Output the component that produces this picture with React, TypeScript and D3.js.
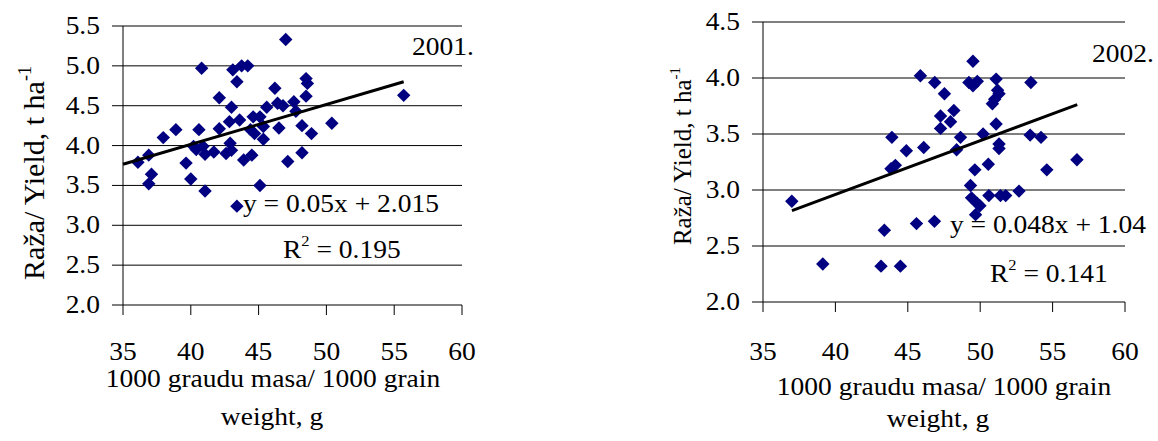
import * as d3 from "d3";

// 2001 season: 1000 grain weight (g) vs yield (t/ha)
const weight2001 = [
  47.0, 40.8, 43.1, 43.75, 44.2, 43.4, 48.5, 48.6, 46.2, 42.1, 48.5, 43.0, 45.6, 46.4,
  46.8, 47.6, 47.75, 42.85, 43.6, 44.6, 45.1, 45.35, 37.97, 38.9, 40.6, 42.1, 44.4, 44.7,
  46.5, 48.2, 50.4, 48.9, 45.35, 40.2, 40.9, 40.4, 42.9, 36.1, 36.9, 41.05, 41.7, 42.6,
  43.0, 43.9, 44.5, 48.2, 39.65, 47.15, 37.1, 36.9, 40.0, 45.1, 41.05, 43.4, 55.7,
];
const yield2001 = [
  5.33, 4.97, 4.95, 5.0, 5.0, 4.8, 4.84, 4.78, 4.72, 4.6, 4.62, 4.48, 4.48, 4.53,
  4.5, 4.55, 4.43, 4.3, 4.32, 4.36, 4.36, 4.24, 4.1, 4.2, 4.2, 4.21, 4.2, 4.15,
  4.22, 4.25, 4.28, 4.15, 4.08, 3.99, 3.99, 3.95, 4.03, 3.79, 3.88, 3.89, 3.92, 3.9,
  3.94, 3.82, 3.88, 3.91, 3.78, 3.8, 3.64, 3.52, 3.58, 3.5, 3.43, 3.24, 4.63,
];

// 2002 season
const weight2002 = [
  49.5, 45.87, 46.86, 47.53, 49.22, 49.5, 49.8, 51.1, 51.2, 51.3, 51.0, 50.84, 53.5,
  48.18, 47.26, 47.95, 47.26, 51.1, 43.9, 48.64, 50.2, 53.45, 54.2, 44.9, 46.1, 48.37,
  51.3, 51.3, 43.84, 44.14, 50.56, 49.63, 54.6, 56.68, 49.33, 36.99, 49.4, 49.8, 49.98,
  49.68, 50.6, 51.4, 51.76, 52.68, 45.6, 46.84, 43.38, 39.13, 43.15, 44.49,
];
const yield2002 = [
  4.15, 4.02, 3.96, 3.86, 3.96, 3.93, 3.97, 3.99, 3.89, 3.86, 3.81, 3.77, 3.96,
  3.71, 3.66, 3.61, 3.55, 3.59, 3.47, 3.47, 3.5, 3.49, 3.47, 3.35, 3.38, 3.36,
  3.41, 3.37, 3.19, 3.22, 3.23, 3.18, 3.18, 3.27, 3.04, 2.9, 2.93, 2.88, 2.86,
  2.78, 2.95, 2.95, 2.95, 2.99, 2.7, 2.72, 2.64, 2.34, 2.32, 2.32,
];

const xTicks = [35, 40, 45, 50, 55, 60];
const yTicks2001 = [2.0, 2.5, 3.0, 3.5, 4.0, 4.5, 5.0, 5.5];
const yTicks2002 = [2.0, 2.5, 3.0, 3.5, 4.0, 4.5];

const FONT = "Liberation Serif, Times New Roman, serif";
const FS = 25;
const SX = 1.1; // text in the source is a bit wide

function Label({ x, y, size = FS, anchor = "start", children }: any) {
  return (
    <g transform={`translate(${x},${y}) scale(${SX},1)`}>
      <text fontSize={size} textAnchor={anchor}>
        {children}
      </text>
    </g>
  );
}

function Panel(props: any) {
  const {
    weights, yields, yTicks, yMax, left, right, top, bottom,
    slope, intercept, fitFrom, fitTo, year, yearPos, eq, eqPos, r2, r2Pos,
    yTitle, tickBase, xTitle1, xTitle2, xTitleX,
  } = props;

  const x = d3.scaleLinear().domain([35, 60]).range([left, right]);
  const y = d3.scaleLinear().domain([2, yMax]).range([bottom, top]);
  const diamond = d3.symbol(d3.symbolSquare, 90)() as string;
  const fit = d3
    .line<number>()
    .x((d) => x(d))
    .y((d) => y(slope * d + intercept))([fitFrom, fitTo]) as string;
  const fmt = d3.format(".1f");

  return (
    <g>
      {/* gridlines */}
      {yTicks.map((t: number) => (
        <line key={t} x1={left - 11} x2={right} y1={y(t)} y2={y(t)} stroke="#000" strokeWidth={1} />
      ))}
      <line x1={left} x2={left} y1={y(yMax)} y2={bottom} stroke="#000" strokeWidth={1} />
      {xTicks.map((t) => (
        <line key={t} x1={x(t)} x2={x(t)} y1={bottom} y2={bottom + 10} stroke="#000" strokeWidth={1} />
      ))}

      {/* tick labels */}
      {yTicks.map((t: number) => (
        <Label key={t} x={left - 23} y={y(t) + 8} anchor="end">
          {fmt(t)}
        </Label>
      ))}
      {xTicks.map((t) => (
        <Label key={t} x={x(t)} y={tickBase} anchor="middle">
          {t}
        </Label>
      ))}

      {/* points */}
      {weights.map((w: number, i: number) => (
        <path
          key={i}
          d={diamond}
          transform={`translate(${x(w)},${y(yields[i])}) rotate(45)`}
          fill="#000080"
        />
      ))}

      <path d={fit} stroke="#000" strokeWidth={3} fill="none" />

      {/* annotations */}
      <Label x={yearPos[0]} y={yearPos[1]}>{year}</Label>
      <Label x={eqPos[0]} y={eqPos[1]}>{eq}</Label>
      <Label x={r2Pos[0]} y={r2Pos[1]}>
        R<tspan dy={-12} fontSize={15}>2</tspan>
        <tspan dy={12}>{" = " + r2}</tspan>
      </Label>

      {/* axis titles */}
      <text
        transform={`translate(${yTitle.x},${yTitle.y}) rotate(-90)`}
        fontSize={yTitle.size}
        textAnchor="middle"
      >
        Raža/ Yield, t ha
        <tspan dy={-yTitle.size * 0.45} fontSize={yTitle.size * 0.6}>-1</tspan>
      </text>
      <Label x={xTitleX[0]} y={xTitle1} anchor="middle">
        1000 graudu masa/ 1000 grain
      </Label>
      <Label x={xTitleX[1]} y={xTitle2} anchor="middle">
        weight, g
      </Label>
    </g>
  );
}

export default function App() {
  return (
    <svg
      width={1158}
      height={441}
      style={{ position: "absolute", left: 0, top: 0, background: "#fff", fontFamily: FONT }}
    >
      <rect width={1158} height={441} fill="#fff" />
      <Panel
        weights={weight2001}
        yields={yield2001}
        yTicks={yTicks2001}
        yMax={5.5}
        left={123}
        right={462}
        top={26}
        bottom={305}
        slope={0.05}
        intercept={2.015}
        fitFrom={35}
        fitTo={55.7}
        year="2001."
        yearPos={[412, 55]}
        eq="y = 0.05x + 2.015"
        eqPos={[243, 212]}
        r2="0.195"
        r2Pos={[283, 258]}
        yTitle={{ x: 44, y: 173, size: 30 }}
        tickBase={360}
        xTitle1={387}
        xTitle2={425}
        xTitleX={[273, 272]}
      />
      <Panel
        weights={weight2002}
        yields={yield2002}
        yTicks={yTicks2002}
        yMax={4.5}
        left={763}
        right={1125}
        top={22}
        bottom={302}
        slope={0.048}
        intercept={1.04}
        fitFrom={37}
        fitTo={56.7}
        year="2002."
        yearPos={[1092, 62]}
        eq="y = 0.048x + 1.04"
        eqPos={[950, 233]}
        r2="0.141"
        r2Pos={[990, 282]}
        yTitle={{ x: 691, y: 156, size: 25 }}
        tickBase={360}
        xTitle1={395}
        xTitle2={427}
        xTitleX={[944, 938]}
      />
    </svg>
  );
}
